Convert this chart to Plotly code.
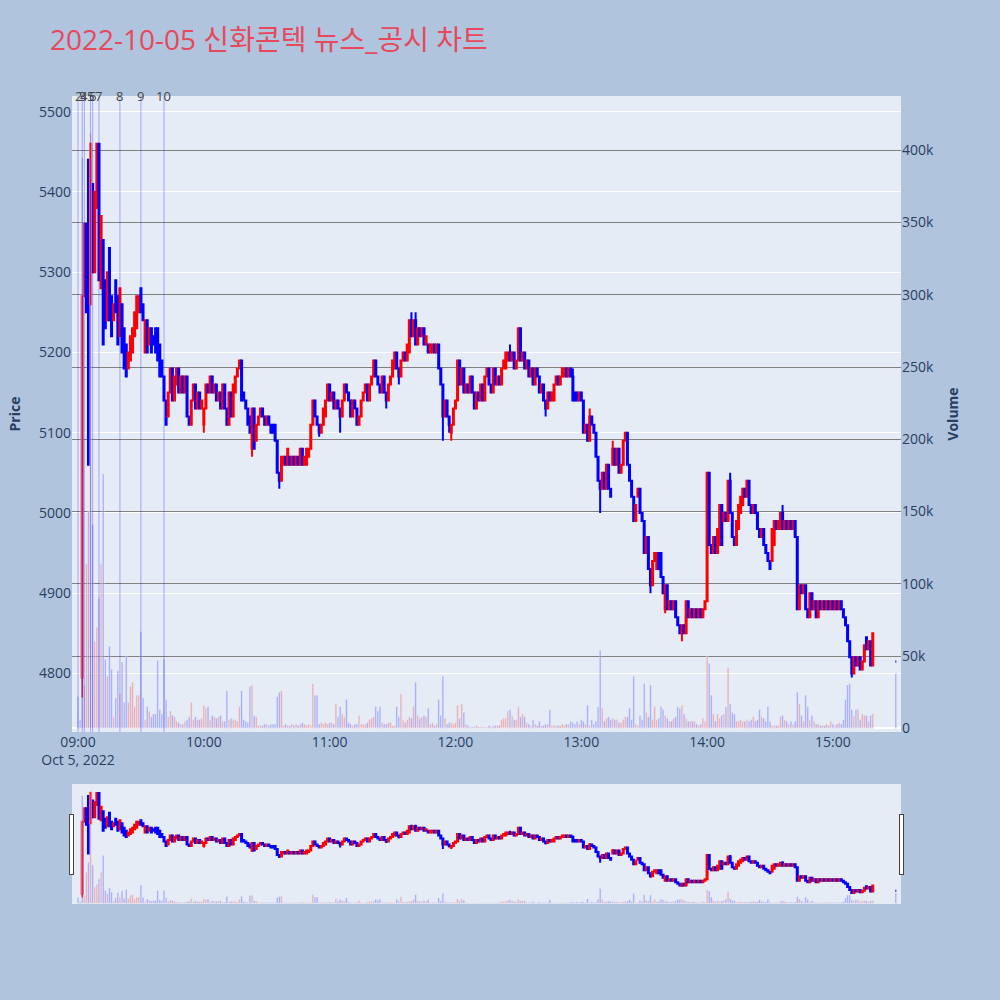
import pandas as pd
import plotly.graph_objects as go
from plotly.subplots import make_subplots

# ---------------- data ----------------
times = list(pd.date_range("2022-10-05 09:00", "2022-10-05 15:19", freq="min")) + [pd.Timestamp("2022-10-05 15:30")]

# first two minutes traded volume only (no candle visible)
opens = [
    None, None, 4795, 5270, 5360, 5440, 5260, 5410, 5300, 5380,
    5460, 5280, 5340, 5290, 5240, 5330, 5270, 5240, 5290, 5270,
    5220, 5260, 5230, 5210, 5180, 5190, 5200, 5220, 5230, 5250,
    5280, 5260, 5200, 5240, 5210, 5230, 5220, 5230, 5230, 5210,
    5190, 5170, 5140, 5120, 5150, 5180, 5140, 5160, 5180, 5150,
    5170, 5150, 5170, 5120, 5110, 5140, 5160, 5130, 5150, 5130,
    5110, 5130, 5160, 5150, 5170, 5150, 5160, 5140, 5150, 5130,
    5160, 5130, 5110, 5150, 5120, 5150, 5170, 5180, 5190, 5150,
    5140, 5130, 5120, 5080, 5130, 5090, 5110, 5120, 5130, 5120,
    5110, 5120, 5110, 5110, 5110, 5090, 5050, 5040, 5060, 5070,
    5060, 5070, 5060, 5070, 5060, 5070, 5060, 5080, 5060, 5060,
    5070, 5080, 5110, 5140, 5120, 5110, 5100, 5110, 5120, 5140,
    5160, 5140, 5150, 5130, 5140, 5130, 5120, 5140, 5160, 5150,
    5140, 5120, 5140, 5130, 5110, 5120, 5140, 5150, 5160, 5140,
    5160, 5170, 5190, 5170, 5160, 5150, 5170, 5150, 5140, 5160,
    5170, 5180, 5200, 5180, 5170, 5190, 5200, 5190, 5200, 5240,
    5220, 5240, 5210, 5230, 5220, 5230, 5210, 5210, 5200, 5200,
    5210, 5200, 5210, 5180, 5160, 5120, 5140, 5120, 5100, 5110,
    5130, 5140, 5190, 5160, 5180, 5150, 5160, 5150, 5170, 5150,
    5130, 5150, 5140, 5160, 5140, 5170, 5180, 5160, 5150, 5180,
    5160, 5170, 5160, 5180, 5180, 5190, 5200, 5190, 5200, 5180,
    5190, 5230, 5190, 5200, 5180, 5190, 5170, 5180, 5160, 5180,
    5170, 5150, 5160, 5140, 5130, 5150, 5140, 5140, 5160, 5170,
    5160, 5170, 5170, 5180, 5170, 5180, 5170, 5150, 5150, 5140,
    5150, 5140, 5100, 5110, 5090, 5120, 5110, 5100, 5070, 5040,
    5030, 5050, 5030, 5060, 5030, 5060, 5080, 5060, 5080, 5050,
    5060, 5090, 5100, 5060, 5040, 5020, 4990, 5020, 5030, 5000,
    4990, 4950, 4970, 4930, 4910, 4940, 4930, 4950, 4950, 4920,
    4880, 4910, 4880, 4890, 4880, 4890, 4870, 4860, 4850, 4860,
    4850, 4890, 4870, 4880, 4870, 4880, 4870, 4880, 4870, 4880,
    4890, 5050, 4960, 4950, 4970, 4950, 4960, 5010, 4990, 5000,
    4990, 5040, 5000, 4970, 4960, 4980, 5000, 5010, 5030, 5020,
    5040, 5010, 5000, 5010, 5000, 4980, 4970, 4980, 4960, 4950,
    4940, 4940, 4960, 4990, 4980, 4980, 5000, 4980, 4990, 4980,
    4990, 4980, 4990, 4970, 4880, 4910, 4900, 4910, 4880, 4870,
    4900, 4880, 4890, 4870, 4890, 4880, 4890, 4880, 4890, 4880,
    4890, 4880, 4890, 4880, 4890, 4880, 4870, 4860, 4840, 4820,
    4800, 4820, 4810, 4820, 4805, 4815, 4845, 4830, 4840, 4810,
    4815,
]

closes = [
    None, None, 5270, 5360, 5250, 5060, 5460, 5300, 5400, 5460,
    5290, 5370, 5210, 5230, 5300, 5240, 5220, 5260, 5250, 5210,
    5280, 5200, 5180, 5170, 5200, 5220, 5230, 5250, 5270, 5270,
    5250, 5240, 5240, 5200, 5230, 5200, 5210, 5200, 5190, 5170,
    5170, 5140, 5110, 5150, 5180, 5140, 5170, 5180, 5150, 5170,
    5150, 5170, 5120, 5110, 5140, 5160, 5130, 5150, 5130, 5140,
    5130, 5160, 5150, 5170, 5150, 5160, 5140, 5150, 5130, 5160,
    5130, 5110, 5150, 5120, 5160, 5170, 5180, 5190, 5140, 5140,
    5130, 5110, 5100, 5130, 5080, 5110, 5120, 5130, 5120, 5110,
    5120, 5110, 5100, 5100, 5090, 5050, 5040, 5070, 5070, 5060,
    5080, 5060, 5070, 5060, 5070, 5060, 5080, 5060, 5070, 5080,
    5080, 5110, 5140, 5120, 5110, 5100, 5110, 5130, 5140, 5160,
    5140, 5150, 5130, 5140, 5130, 5120, 5140, 5160, 5150, 5140,
    5120, 5140, 5130, 5110, 5120, 5140, 5150, 5160, 5140, 5160,
    5170, 5190, 5170, 5160, 5150, 5170, 5150, 5140, 5160, 5170,
    5190, 5200, 5180, 5170, 5190, 5200, 5190, 5210, 5240, 5220,
    5240, 5210, 5230, 5220, 5230, 5210, 5220, 5200, 5210, 5210,
    5200, 5210, 5180, 5160, 5120, 5140, 5120, 5110, 5110, 5130,
    5140, 5190, 5160, 5180, 5150, 5160, 5150, 5170, 5150, 5130,
    5150, 5140, 5160, 5140, 5170, 5180, 5160, 5150, 5180, 5160,
    5170, 5160, 5180, 5190, 5200, 5200, 5190, 5200, 5180, 5190,
    5230, 5190, 5200, 5180, 5190, 5170, 5180, 5160, 5180, 5170,
    5150, 5160, 5140, 5130, 5150, 5140, 5150, 5160, 5170, 5160,
    5170, 5180, 5180, 5170, 5180, 5170, 5140, 5140, 5140, 5150,
    5140, 5100, 5110, 5090, 5120, 5110, 5100, 5070, 5040, 5030,
    5050, 5030, 5060, 5030, 5020, 5080, 5060, 5080, 5050, 5060,
    5090, 5100, 5060, 5040, 5020, 4990, 5010, 5030, 5000, 4990,
    4950, 4970, 4930, 4910, 4940, 4950, 4950, 4930, 4920, 4900,
    4910, 4880, 4890, 4880, 4890, 4870, 4860, 4850, 4860, 4850,
    4890, 4870, 4880, 4870, 4880, 4870, 4880, 4870, 4880, 4890,
    5050, 4960, 4950, 4970, 4950, 4980, 5010, 4960, 5000, 4990,
    5040, 5000, 4970, 4960, 4990, 5010, 5020, 5030, 5020, 5040,
    5010, 5000, 5010, 5000, 4980, 4970, 4980, 4960, 4950, 4940,
    4930, 4980, 4990, 4980, 4990, 5000, 4980, 4990, 4980, 4990,
    4980, 4990, 4970, 4880, 4910, 4900, 4910, 4880, 4870, 4900,
    4880, 4890, 4870, 4890, 4880, 4890, 4880, 4890, 4880, 4890,
    4880, 4890, 4880, 4890, 4880, 4870, 4860, 4840, 4820, 4800,
    4820, 4810, 4820, 4805, 4815, 4835, 4830, 4840, 4810, 4850,
    4815,
]

# wick extremes beyond the candle bodies (index -> price)
high_wicks = {159: 5250, 161: 5250, 206: 5210, 236: 5180, 244: 5130,
              255: 5090, 311: 5050, 336: 5010}
low_wicks = {2: 4770, 60: 5100, 83: 5070, 96: 5030, 115: 5095, 125: 5100,
             147: 5130, 153: 5160, 174: 5090, 177: 5100, 178: 5090,
             223: 5120, 249: 5000, 273: 4900, 280: 4875, 288: 4840,
             369: 4795}

volumes_k = [
    22, 6, 395, 30, 114, 150, 412, 141, 60, 70,
    90, 114, 176, 48, 36, 57, 41, 8, 21, 40,
    24, 46, 18, 50, 18, 29, 32, 15, 23, 23,
    67, 21, 6, 15, 12, 8, 10, 10, 47, 13,
    10, 48, 20, 8, 12, 9, 8, 5, 4, 3,
    3, 5, 6, 8, 18, 6, 8, 6, 6, 7,
    16, 14, 15, 6, 9, 8, 7, 8, 9, 5,
    5, 26, 6, 7, 6, 6, 5, 15, 26, 6,
    5, 4, 29, 30, 9, 8, 2, 2, 2, 3,
    3, 2, 3, 3, 3, 22, 25, 26, 2, 3,
    2, 2, 3, 2, 3, 2, 3, 4, 3, 2,
    3, 2, 31, 23, 23, 3, 4, 3, 4, 3,
    4, 4, 3, 17, 8, 15, 10, 8, 20, 4,
    3, 2, 3, 3, 9, 3, 3, 3, 4, 6,
    7, 8, 15, 12, 15, 4, 3, 3, 4, 4,
    2, 2, 15, 8, 24, 6, 4, 6, 8, 7,
    15, 32, 9, 7, 8, 9, 8, 14, 3, 4,
    2, 3, 20, 9, 36, 7, 3, 4, 4, 3,
    4, 16, 7, 17, 11, 3, 2, 1, 1, 1,
    2, 1, 1, 1, 1, 1, 2, 1, 2, 2,
    2, 2, 6, 7, 7, 12, 13, 9, 6, 6,
    15, 8, 10, 8, 4, 3, 2, 6, 3, 2,
    5, 2, 2, 3, 3, 13, 2, 2, 2, 2,
    2, 3, 2, 3, 3, 5, 4, 3, 5, 3,
    6, 5, 3, 16, 2, 6, 3, 5, 15, 54,
    14, 5, 7, 8, 6, 7, 6, 6, 4, 4,
    6, 8, 8, 14, 6, 36, 3, 2, 9, 6,
    31, 11, 8, 30, 6, 15, 6, 7, 15, 13,
    9, 7, 5, 5, 7, 8, 15, 14, 16, 10,
    7, 5, 5, 5, 5, 3, 2, 3, 7, 5,
    50, 45, 23, 10, 5, 10, 7, 9, 10, 15,
    42, 17, 11, 10, 5, 5, 6, 5, 5, 6,
    5, 6, 8, 5, 6, 13, 8, 7, 5, 15,
    5, 2, 2, 2, 2, 8, 9, 6, 5, 3,
    5, 3, 5, 25, 17, 9, 5, 23, 15, 6,
    9, 5, 3, 3, 2, 2, 2, 3, 2, 5,
    3, 2, 3, 4, 3, 6, 20, 30, 31, 13,
    9, 13, 13, 6, 10, 9, 9, 5, 9, 10,
    38,
]
# volume bar direction where it is not taken from a candle (index -> rising?)
volume_dir_override = {0: False, 1: False, 2: False, 4: True}

news_times = ["2022-10-05 09:00", "2022-10-05 09:02", "2022-10-05 09:03",
              "2022-10-05 09:06", "2022-10-05 09:07", "2022-10-05 09:10",
              "2022-10-05 09:20", "2022-10-05 09:30", "2022-10-05 09:41"]
news_labels = ["2", "3", "4", "5", "6", "7", "8", "9", "10"]

title_text = "2022-10-05 신화콘텍 뉴스_공시 차트"
x_range = ["2022-10-05 08:57:08", "2022-10-05 15:32:28"]

# ---------------- build ----------------
highs, lows, rising = [], [], []
for i, (o, c) in enumerate(zip(opens, closes)):
    if o is None:
        highs.append(None)
        lows.append(None)
        r = False
    else:
        highs.append(max(o, c, high_wicks.get(i, 0)))
        lows.append(min(o, c, low_wicks.get(i, 10 ** 9)))
        if c > o:
            r = True
        elif c < o:
            r = False
        else:
            r = i > 0 and closes[i - 1] is not None and c > closes[i - 1]
    rising.append(volume_dir_override.get(i, r))
vol_colors = ["rgba(255,0,0,0.3)" if r else "rgba(0,0,255,0.3)" for r in rising]
volumes = [v * 1000 for v in volumes_k]

fig = make_subplots(specs=[[{"secondary_y": True}]])
fig.add_trace(go.Candlestick(
    x=times, open=opens, high=highs, low=lows, close=closes, name="Price",
    increasing=dict(line=dict(color="red", width=2), fillcolor="red"),
    decreasing=dict(line=dict(color="blue", width=2), fillcolor="blue"),
), secondary_y=False)
fig.add_trace(go.Bar(x=times, y=volumes, name="Volume",
                     marker=dict(color=vol_colors)), secondary_y=True)

for t, lab in zip(news_times, news_labels):
    fig.add_shape(type="line", x0=t, x1=t, xref="x", yref="paper", y0=0, y1=1,
                  line=dict(color="rgba(0,0,255,0.3)", width=1))
    fig.add_annotation(x=t, y=1, xref="x", yref="paper", text=lab, showarrow=False,
                       yanchor="middle", xanchor="center",
                       font=dict(size=13, color="#444"))

fig.update_layout(
    width=1000, height=1000,
    paper_bgcolor="#B0C4DE",
    showlegend=False,
    font=dict(size=14),
    title=dict(text=title_text, x=0.05, xanchor="left", y=0.96, yanchor="middle",
               font=dict(size=28, color="#E8485C",
                         family="Open Sans, Noto Sans CJK KR, sans-serif")),
    margin=dict(l=72, r=99, t=96, b=268, autoexpand=False),
    xaxis=dict(range=x_range, showgrid=False, domain=[0, 1],
               rangeslider=dict(visible=True, thickness=0.1887, range=x_range)),
)
fig.update_yaxes(title_text="<b>Price</b>", title_font=dict(size=14),
                 range=[4727, 5519.5], secondary_y=False)
fig.update_yaxes(title_text="<b>Volume</b>", title_font=dict(size=14),
                 range=[-2500, 437500], showgrid=True,
                 gridcolor="gray", secondary_y=True)

fig.write_html("out.html", config={"displayModeBar": False},
               post_script="document.body.style.margin='0px';")
